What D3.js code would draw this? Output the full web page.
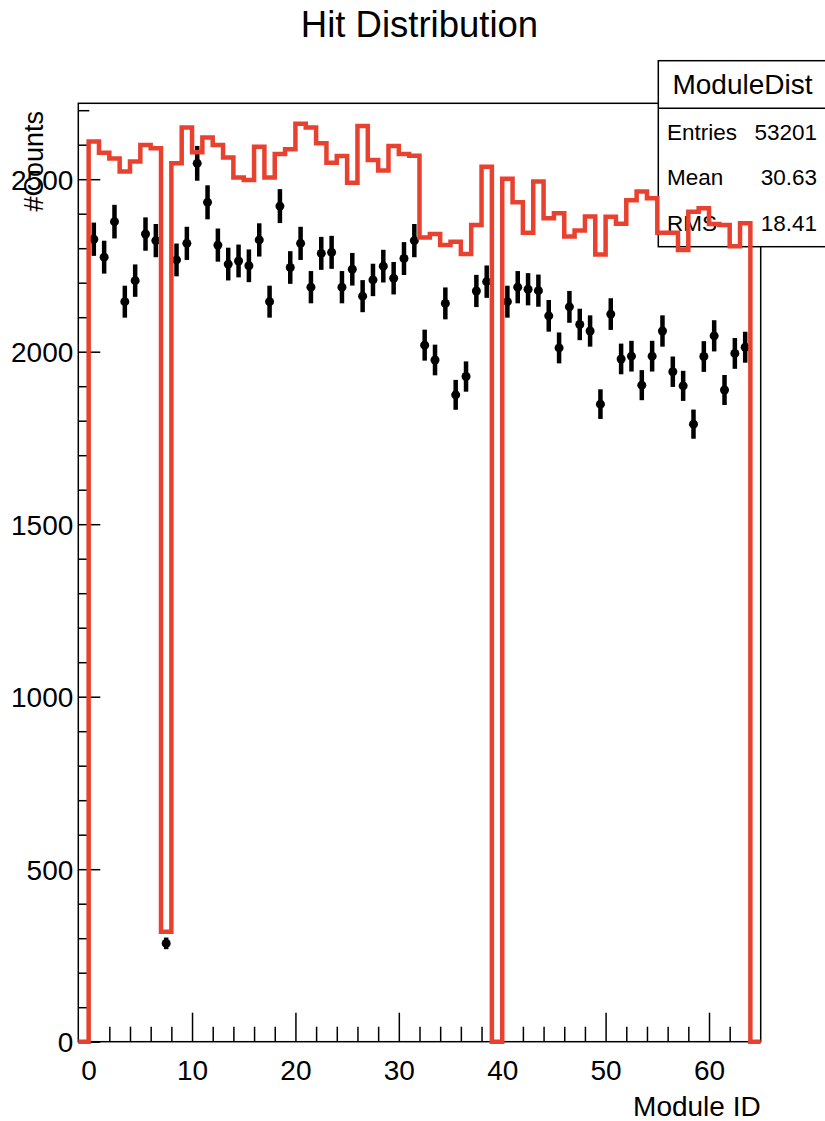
<!DOCTYPE html>
<html>
<head>
<meta charset="utf-8">
<script src="https://cdn.jsdelivr.net/npm/d3@7/dist/d3.min.js"></script>
<style>
  html, body { margin: 0; padding: 0; background: #fff; }
  svg { display: block; font-family: "Liberation Sans", Arial, Helvetica, sans-serif; }
</style>
</head>
<body>
<svg id="chart" width="825" height="1121"></svg>
<script>
// ---- Data ----
// bin low edges (Module ID), bin width 1
const binEdges = [-1,0,1,2,3,4,5,6,7,8,9,10,11,12,13,14,15,16,17,18,19,20,21,22,23,24,25,26,27,28,29,30,31,32,33,34,35,36,37,38,39,40,41,42,43,44,45,46,47,48,49,50,51,52,53,54,55,56,57,58,59,60,61,62,63,64];
// red histogram contents
const redCounts = [0,2609,2577,2560,2522,2551,2599,2590,319,2546,2650,2578,2621,2599,2563,2505,2498,2594,2505,2573,2587,2661,2650,2604,2548,2567,2490,2654,2556,2525,2596,2573,2568,2331,2341,2309,2319,2283,2367,2536,0,2501,2433,2345,2493,2387,2401,2334,2351,2392,2282,2391,2371,2439,2464,2445,2345,2345,2295,2406,2416,2370,2367,2306,2372,0];
// black points (with Poisson errors)
const blackCounts = [0,2326,2274,2377,2145,2206,2341,2322,285,2266,2314,2546,2433,2309,2254,2263,2249,2324,2145,2422,2244,2314,2187,2285,2288,2187,2239,2161,2208,2248,2213,2270,2322,2019,1976,2140,1875,1928,2176,2203,0,2145,2187,2181,2177,2104,2011,2130,2079,2060,1848,2109,1979,1987,1903,1987,2060,1942,1901,1790,1986,2046,1889,1995,2013,0];

const xMajorTicks = [0,10,20,30,40,50,60];
const xMinorTicks = [2,4,6,8,12,14,16,18,22,24,26,28,32,34,36,38,42,44,46,48,52,54,56,58,62,64];
const yMajorTicks = [0,500,1000,1500,2000,2500];
const yMinorTicks = [100,200,300,400,600,700,800,900,1100,1200,1300,1400,1600,1700,1800,1900,2100,2200,2300,2400,2600,2700];

const titleText = "Hit Distribution";
const xTitle = "Module ID";
const yTitle = "#Counts";
const statsName = "ModuleDist";
const statsRows = [["Entries","53201"],["Mean","30.63"],["RMS","18.41"]];

// ---- Layout ----
const svg = d3.select("#chart");
const L = 78.3, R = 760.7, T = 103.3, B = 1041.7;
const x = d3.scaleLinear().domain([-1, 65]).range([L, R]);
const y = d3.scaleLinear().domain([0, 2720]).range([B, T]);
const RED = "#e8412f";
const FONT = "'Liberation Sans', Arial, Helvetica, sans-serif";

svg.append("rect").attr("width", 825).attr("height", 1121).attr("fill", "#fff");

// Title
svg.append("text").attr("x", 419.5).attr("y", 37).attr("text-anchor", "middle")
  .attr("font-size", 36.5).attr("fill", "#000").text(titleText);

// Axes
const gx = svg.append("g").attr("transform", `translate(0,${B})`);
gx.call(d3.axisBottom(x).tickValues(xMajorTicks).tickSize(-29).tickPadding(18.5).tickFormat(d3.format("d")));
const gxm = svg.append("g").attr("transform", `translate(0,${B})`);
gxm.call(d3.axisBottom(x).tickValues(xMinorTicks).tickSize(-15).tickFormat(""));
const gy = svg.append("g").attr("transform", `translate(${L},0)`);
gy.call(d3.axisLeft(y).tickValues(yMajorTicks).tickSize(-22).tickPadding(5).tickFormat(d3.format("d")));
const gym = svg.append("g").attr("transform", `translate(${L},0)`);
gym.call(d3.axisLeft(y).tickValues(yMinorTicks).tickSize(-11).tickFormat(""));

[gx, gxm, gy, gym].forEach(g => {
  g.select(".domain").remove();
  g.selectAll(".tick line").attr("stroke", "#000").attr("stroke-width", 1.5);
  g.selectAll(".tick text").attr("font-size", 28).attr("fill", "#000").attr("font-family", FONT);
});
gy.selectAll(".tick text").attr("dy", "0.35em");

// Frame
svg.append("rect").attr("x", L).attr("y", T).attr("width", R - L).attr("height", B - T)
  .attr("fill", "none").attr("stroke", "#000").attr("stroke-width", 1.5);

// Axis titles
svg.append("text").attr("x", R).attr("y", 1116).attr("text-anchor", "end")
  .attr("font-size", 28).attr("fill", "#000").text(xTitle);
svg.append("text").attr("transform", `translate(43,111) rotate(-90)`).attr("text-anchor", "end")
  .attr("font-size", 27).attr("fill", "#000").text(yTitle);

// Black points with error bars
const pts = binEdges.map((e, i) => ({ c: e + 0.5, v: blackCounts[i] })).filter(d => d.v > 0);
const gp = svg.append("g");
gp.selectAll("line.err").data(pts).join("line").attr("class", "err")
  .attr("x1", d => x(d.c)).attr("x2", d => x(d.c))
  .attr("y1", d => y(d.v + Math.sqrt(d.v))).attr("y2", d => y(d.v - Math.sqrt(d.v)))
  .attr("stroke", "#000").attr("stroke-width", 4.5);
gp.selectAll("circle").data(pts).join("circle")
  .attr("cx", d => x(d.c)).attr("cy", d => y(d.v)).attr("r", 4.5).attr("fill", "#000");

// Stats box
const sb = svg.append("g");
sb.append("rect").attr("x", 658.3).attr("y", 60.7).attr("width", 170).attr("height", 186)
  .attr("fill", "#fff").attr("stroke", "#000").attr("stroke-width", 1.5);
sb.append("line").attr("x1", 658.3).attr("x2", 830).attr("y1", 108.3).attr("y2", 108.3)
  .attr("stroke", "#000").attr("stroke-width", 1.5);
sb.append("text").attr("x", 742.5).attr("y", 94).attr("text-anchor", "middle")
  .attr("font-size", 28).attr("fill", "#000").text(statsName);
const rowY = [139.5, 185, 231];
statsRows.forEach((r, i) => {
  sb.append("text").attr("x", 667).attr("y", rowY[i]).attr("font-size", 22.5).attr("fill", "#000").text(r[0]);
  sb.append("text").attr("x", 817).attr("y", rowY[i]).attr("text-anchor", "end").attr("font-size", 22.5).attr("fill", "#000").text(r[1]);
});

// Red histogram (step line)
const stepPts = [];
binEdges.forEach((e, i) => {
  stepPts.push([e, redCounts[i]]);
  stepPts.push([e + 1, redCounts[i]]);
});
stepPts.unshift([binEdges[0], 0]);
stepPts.push([binEdges[binEdges.length - 1] + 1, 0]);
const line = d3.line().x(d => x(d[0])).y(d => y(d[1]));
svg.append("path").attr("d", line(stepPts)).attr("fill", "none")
  .attr("stroke", RED).attr("stroke-width", 4.5).attr("stroke-linejoin", "miter");
</script>
</body>
</html>
